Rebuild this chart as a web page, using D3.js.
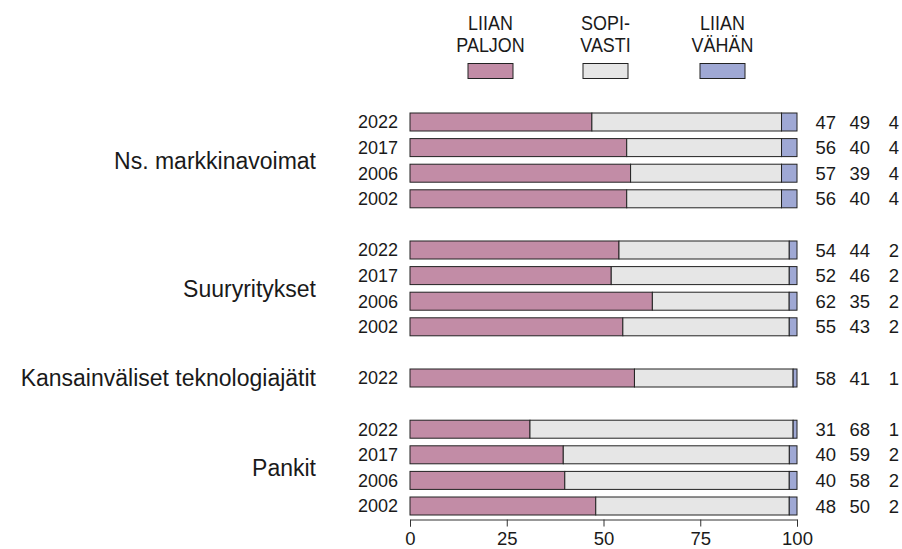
<!DOCTYPE html>
<html>
<head>
<meta charset="utf-8">
<script src="https://cdn.jsdelivr.net/npm/d3@7"></script>
<style>
    body { margin: 0; background: #fff; }
    text { font-family: "Liberation Sans", Arial, sans-serif; fill: #1a1a1a; }
</style>
</head>
<body>
<svg id="chart" width="902" height="549"></svg>
<script>
// legend / series
var series = ["LIIAN PALJON", "SOPI- VASTI", "LIIAN VÄHÄN"];
var seriesLines = [["LIIAN", "PALJON"], ["SOPI-", "VASTI"], ["LIIAN", "VÄHÄN"]];
var colors = ["#c28ca6", "#e6e6e6", "#9fa8d4"];

// groups and their years
var groups = ["Ns. markkinavoimat", "Suuryritykset", "Kansainväliset teknologiajätit", "Pankit"];
var groupYears = [
    ["2022", "2017", "2006", "2002"],
    ["2022", "2017", "2006", "2002"],
    ["2022"],
    ["2022", "2017", "2006", "2002"]
];

// values per group: [liian paljon, sopivasti, liian vähän]
var markkinavoimat = [[47, 49, 4], [56, 40, 4], [57, 39, 4], [56, 40, 4]];
var suuryritykset = [[54, 44, 2], [52, 46, 2], [62, 35, 2], [55, 43, 2]];
var teknologiajatit = [[58, 41, 1]];
var pankit = [[31, 68, 1], [40, 59, 2], [40, 58, 2], [48, 50, 2]];
var groupValues = [markkinavoimat, suuryritykset, teknologiajatit, pankit];

var tickValues = [0, 25, 50, 75, 100];

// build rows with slot index (one empty slot between groups)
var rows = [];
var groupRows = [];
var slot = 0;
groups.forEach(function (g, gi) {
    var first = slot;
    groupYears[gi].forEach(function (y, yi) {
        rows.push({ group: g, year: y, values: groupValues[gi][yi], slot: slot });
        slot++;
    });
    groupRows.push({ name: g, first: first, last: slot - 1 });
    slot++;
});

var svg = d3.select("#chart");

var x = d3.scaleLinear().domain([0, 100]).range([410, 797]);
var y = d3.scaleLinear().domain([0, 15]).range([122, 506]);
var barH = 18;

// legend
var legendX = [490.5, 605.5, 722.5];
var legend = svg.append("g").attr("class", "legend");
series.forEach(function (s, i) {
    var lg = legend.append("g")
        .attr("transform", "translate(" + legendX[i] + ",0) scale(0.92,1)");
    seriesLines[i].forEach(function (line, li) {
        lg.append("text")
            .attr("x", 0)
            .attr("y", 30 + li * 22)
            .attr("text-anchor", "middle")
            .attr("font-size", 19.5)
            .text(line);
    });
    legend.append("rect")
        .attr("x", legendX[i] - 22.5)
        .attr("y", 63.5)
        .attr("width", 45)
        .attr("height", 15)
        .attr("fill", colors[i])
        .attr("stroke", "#222")
        .attr("stroke-width", 1);
});

// bars
var bar = svg.selectAll("g.row").data(rows)
    .enter().append("g")
    .attr("class", "row")
    .attr("transform", function (d) { return "translate(0," + (y(d.slot) - barH / 2) + ")"; });

bar.selectAll("rect")
    .data(function (d) {
        var total = d3.sum(d.values);
        var cum = 0;
        return d.values.map(function (v, i) {
            var seg = { i: i, x0: cum / total * 100, x1: (cum + v) / total * 100 };
            cum += v;
            return seg;
        });
    })
    .enter().append("rect")
    .attr("x", function (d) { return x(d.x0); })
    .attr("y", 0)
    .attr("width", function (d) { return x(d.x1) - x(d.x0); })
    .attr("height", barH)
    .attr("fill", function (d) { return colors[d.i]; })
    .attr("stroke", "#222")
    .attr("stroke-width", 1);

// year labels
bar.append("text")
    .attr("x", 398)
    .attr("y", barH / 2)
    .attr("dy", "0.36em")
    .attr("text-anchor", "end")
    .attr("font-size", 18)
    .text(function (d) { return d.year; });

// value labels
var valX = [836, 870, 894];
var valAnchor = ["end", "end", "middle"];
bar.selectAll("text.val")
    .data(function (d) { return d.values; })
    .enter().append("text")
    .attr("class", "val")
    .attr("x", function (d, i) { return valX[i]; })
    .attr("y", barH / 2)
    .attr("dy", "0.36em")
    .attr("text-anchor", function (d, i) { return valAnchor[i]; })
    .attr("font-size", 18.5)
    .text(function (d) { return d; });

// group labels
svg.selectAll("text.group").data(groupRows)
    .enter().append("text")
    .attr("class", "group")
    .attr("x", 316)
    .attr("y", function (d) { return (y(d.first) + y(d.last)) / 2; })
    .attr("dy", "0.36em")
    .attr("text-anchor", "end")
    .attr("font-size", 23)
    .text(function (d) { return d.name; });

// x axis
var axis = svg.append("g")
    .attr("transform", "translate(0,519.5)")
    .call(d3.axisBottom(x).tickValues(tickValues).tickSize(7).tickPadding(5).tickSizeOuter(7));

axis.select(".domain").attr("stroke", "#333");
axis.selectAll(".tick line").attr("stroke", "#333");
axis.selectAll(".tick text")
    .attr("font-size", 18.5)
    .attr("font-family", "Liberation Sans, Arial, sans-serif")
    .attr("fill", "#1a1a1a");
</script>
</body>
</html>
